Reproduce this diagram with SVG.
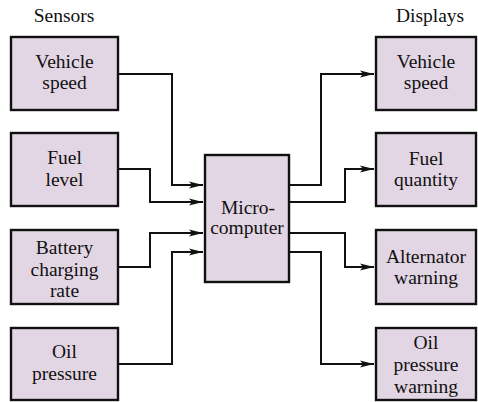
<svg xmlns="http://www.w3.org/2000/svg" width="478" height="402" viewBox="0 0 478 402">
  <style>
    .box { fill: #e3d6e4; stroke: #111; stroke-width: 2.4; }
    .t { font-family: "Liberation Serif", "Times New Roman", serif; font-size: 19.5px; fill: #111; text-anchor: middle; }
    .c { fill: none; stroke: #111; stroke-width: 2; marker-end: url(#arr); }
  </style>
  <defs>
    <marker id="arr" markerUnits="userSpaceOnUse" markerWidth="16" markerHeight="10" refX="14" refY="4" orient="auto">
      <path d="M0,0.6 L14,4 L0,7.4 L3,4 z" fill="#111"/>
    </marker>
  </defs>
  <rect width="478" height="402" fill="#fff"/>

  <text class="t" x="64" y="22">Sensors</text>
  <text class="t" x="430" y="22">Displays</text>

  <g id="s-vehicle-speed">
    <rect class="box" x="11" y="37" width="107" height="73"/>
    <text class="t" x="64.5" y="68">Vehicle</text>
    <text class="t" x="64.5" y="89">speed</text>
  </g>
  <g id="s-fuel-level">
    <rect class="box" x="11" y="133" width="107" height="73"/>
    <text class="t" x="64.5" y="164">Fuel</text>
    <text class="t" x="64.5" y="185.5">level</text>
  </g>
  <g id="s-battery">
    <rect class="box" x="11" y="230" width="107" height="74"/>
    <text class="t" x="64.5" y="254">Battery</text>
    <text class="t" x="64.5" y="276">charging</text>
    <text class="t" x="64.5" y="297">rate</text>
  </g>
  <g id="s-oil-pressure">
    <rect class="box" x="11" y="328" width="107" height="72"/>
    <text class="t" x="64.5" y="358">Oil</text>
    <text class="t" x="64.5" y="379.5">pressure</text>
  </g>

  <g id="microcomputer">
    <rect class="box" x="205" y="155" width="84" height="127"/>
    <text class="t" x="248" y="213.5">Micro-</text>
    <text class="t" x="247" y="234">computer</text>
  </g>

  <g id="d-vehicle-speed">
    <rect class="box" x="376" y="37" width="100" height="73"/>
    <text class="t" x="426" y="68">Vehicle</text>
    <text class="t" x="426" y="89">speed</text>
  </g>
  <g id="d-fuel-quantity">
    <rect class="box" x="376" y="133" width="100" height="73"/>
    <text class="t" x="426" y="164.5">Fuel</text>
    <text class="t" x="426" y="186">quantity</text>
  </g>
  <g id="d-alternator">
    <rect class="box" x="376" y="230" width="100" height="74"/>
    <text class="t" x="426" y="262.5">Alternator</text>
    <text class="t" x="426" y="283.5">warning</text>
  </g>
  <g id="d-oil-pressure-warning">
    <rect class="box" x="376" y="328" width="100" height="72"/>
    <text class="t" x="426" y="348.5">Oil</text>
    <text class="t" x="426" y="370.5">pressure</text>
    <text class="t" x="426" y="392.5">warning</text>
  </g>

  <g id="connectors">
    <path class="c" d="M119,74 H172 V185 H203"/>
    <path class="c" d="M119,169 H150 V202 H203"/>
    <path class="c" d="M119,267 H150 V233 H203"/>
    <path class="c" d="M119,364 H172 V252 H203"/>
    <path class="c" d="M290,185 H321 V74 H374"/>
    <path class="c" d="M290,202 H345 V169 H374"/>
    <path class="c" d="M290,233 H345 V267 H374"/>
    <path class="c" d="M290,252 H321 V364 H374"/>
  </g>
</svg>
